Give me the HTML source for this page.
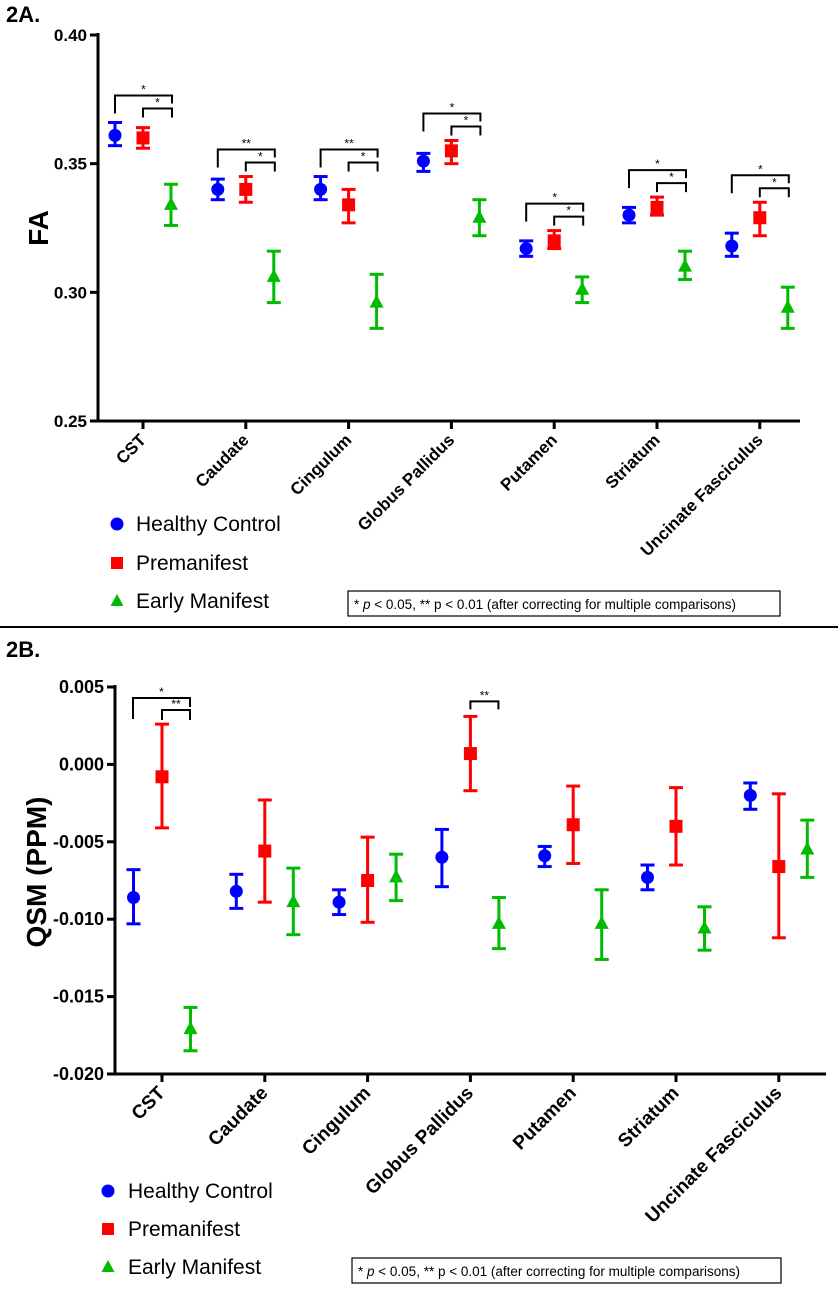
<!DOCTYPE html>
<html><head><meta charset="utf-8"><style>
body{margin:0;background:#fff;}
svg text{font-family:"Liberation Sans",Arial,sans-serif;}
</style></head><body>
<svg id="chart" width="838" height="1296" xmlns="http://www.w3.org/2000/svg"></svg>
<script>
const categories=["CST","Caudate","Cingulum","Globus Pallidus","Putamen","Striatum","Uncinate Fasciculus"];
const faHC=[[0.361,0.357,0.366],[0.340,0.336,0.344],[0.340,0.336,0.345],[0.351,0.347,0.354],[0.317,0.314,0.320],[0.330,0.327,0.333],[0.318,0.314,0.323]];
const faPM=[[0.360,0.356,0.364],[0.340,0.335,0.345],[0.334,0.327,0.340],[0.355,0.350,0.359],[0.320,0.317,0.324],[0.333,0.330,0.337],[0.329,0.322,0.335]];
const faEM=[[0.334,0.326,0.342],[0.306,0.296,0.316],[0.296,0.286,0.307],[0.329,0.322,0.336],[0.301,0.296,0.306],[0.310,0.305,0.316],[0.294,0.286,0.302]];
const faSig=[["*","*"],["**","*"],["**","*"],["*","*"],["*","*"],["*","*"],["*","*"]];
const faTicks=[0.25,0.30,0.35,0.40];
const qHC=[[-0.0086,-0.0103,-0.0068],[-0.0082,-0.0093,-0.0071],[-0.0089,-0.0097,-0.0081],[-0.0060,-0.0079,-0.0042],[-0.0059,-0.0066,-0.0053],[-0.0073,-0.0081,-0.0065],[-0.0020,-0.0029,-0.0012]];
const qPM=[[-0.0008,-0.0041,0.0026],[-0.0056,-0.0089,-0.0023],[-0.0075,-0.0102,-0.0047],[0.0007,-0.0017,0.0031],[-0.0039,-0.0064,-0.0014],[-0.0040,-0.0065,-0.0015],[-0.0066,-0.0112,-0.0019]];
const qEM=[[-0.0171,-0.0185,-0.0157],[-0.0089,-0.0110,-0.0067],[-0.0073,-0.0088,-0.0058],[-0.0103,-0.0119,-0.0086],[-0.0103,-0.0126,-0.0081],[-0.0106,-0.0120,-0.0092],[-0.0055,-0.0073,-0.0036]];
const qTicks=[0.005,0.000,-0.005,-0.010,-0.015,-0.020];
const qTickLabels=["0.005","0.000","-0.005","-0.010","-0.015","-0.020"];

const svg=document.getElementById('chart');
const NS="http://www.w3.org/2000/svg";
function mk(tag,attrs,name,parent){const e=document.createElementNS(NS,tag);for(const k in attrs)e.setAttribute(k,attrs[k]);


(parent||svg).appendChild(e);return e;}
function txt(x,y,s,attrs,name){const t=mk('text',Object.assign({x:x,y:y},attrs),name);t.textContent=s;return t;}

function panel(o){
  const g=mk('g',{},o.name);
  const y=v=>o.y0+(v-o.vmin)/(o.vmax-o.vmin)*(o.y1-o.y0);
  const x=i=>o.cx0+i*o.step;
  mk('line',{x1:o.ax,y1:o.y1-2,x2:o.ax,y2:o.y0+1.5,stroke:'#000','stroke-width':3},'y-axis',g);
  mk('line',{x1:o.ax-1.5,y1:o.y0,x2:o.xend,y2:o.y0,stroke:'#000','stroke-width':3},'x-axis',g);
  o.ticks.forEach((t,i)=>{mk('line',{x1:o.ax-8,y1:y(t),x2:o.ax,y2:y(t),stroke:'#000','stroke-width':3},'y-tick',g);
    txt(o.ax-11,y(t)+6,o.tickLabels[i],{'text-anchor':'end','font-size':o.tfs,'font-weight':'bold'},'y-tick-label');});
  categories.forEach((c,i)=>{mk('line',{x1:x(i),y1:o.y0,x2:x(i),y2:o.y0+8,stroke:'#000','stroke-width':3},'x-tick',g);
    txt(x(i)+4,o.y0+20,c,{'text-anchor':'end','font-size':o.lfs,'font-weight':'bold',transform:`rotate(-45 ${x(i)+4} ${o.y0+20})`},'x-tick-label');});
  const series=[[o.hc,'#0000ff','circle',-o.off],[o.pm,'#ff0000','square',0],[o.em,'#00bb00','triangle',o.off]];
  series.forEach(([d,col,shape,dx])=>{d.forEach((v,i)=>{const cx=x(i)+dx;
    mk('line',{x1:cx,y1:y(v[1]),x2:cx,y2:y(v[2]),stroke:col,'stroke-width':3},'error-bar',g);
    mk('line',{x1:cx-7,y1:y(v[1]),x2:cx+7,y2:y(v[1]),stroke:col,'stroke-width':3},'error-cap',g);
    mk('line',{x1:cx-7,y1:y(v[2]),x2:cx+7,y2:y(v[2]),stroke:col,'stroke-width':3},'error-cap',g);
    const cy=y(v[0]);
    if(shape==='circle')mk('circle',{cx:cx,cy:cy,r:6.5,fill:col},'point-healthy-control',g);
    else if(shape==='square')mk('rect',{x:cx-6.5,y:cy-6.5,width:13,height:13,fill:col},'point-premanifest',g);
    else mk('polygon',{points:`${cx},${cy-8} ${cx+7},${cy+5} ${cx-7},${cy+5}`,fill:col},'point-early-manifest',g);
  });});
  return {x,y,g};
}

// Panel A
const A=panel({name:'panel-2a',ax:98,xend:800,y0:421,y1:35,vmin:0.25,vmax:0.40,cx0:143,step:102.8,off:28,tfs:17,lfs:17,ticks:faTicks,tickLabels:faTicks.map(t=>t.toFixed(2)),hc:faHC,pm:faPM,em:faEM});
categories.forEach((c,i)=>{
  const top=A.y(Math.max(faHC[i][2],faPM[i][2]));
  const yo=top-27, yi=top-14;
  const xh=A.x(i)-28,xp=A.x(i),xe=A.x(i)+29;
  mk('path',{d:`M${xh},${yo+18}V${yo}H${xe}V${yo+8}`,fill:'none',stroke:'#000','stroke-width':2},'significance-bracket',A.g);
  mk('path',{d:`M${xp},${yi+9}V${yi}H${xe}V${yi+9}`,fill:'none',stroke:'#000','stroke-width':2},'significance-bracket',A.g);
  txt((xh+xe)/2,yo-2,faSig[i][0],{'text-anchor':'middle','font-size':12},'significance-star');
  txt((xp+xe)/2,yi-2,faSig[i][1],{'text-anchor':'middle','font-size':12},'significance-star');
});
txt(6,22,'2A.',{'font-size':22,'font-weight':'bold'},'panel-label-2a');
txt(48,228,'FA',{'font-size':28,'font-weight':'bold','text-anchor':'middle',transform:'rotate(-90 48 228)'},'y-axis-title-fa');

// Panel B
const B=panel({name:'panel-2b',ax:115,xend:826,y0:1074,y1:687,vmin:-0.020,vmax:0.005,cx0:162,step:102.8,off:28.5,tfs:18,lfs:19,ticks:qTicks,tickLabels:qTickLabels,hc:qHC,pm:qPM,em:qEM});
(function(){
  const xh=B.x(0)-29,xp=B.x(0),xe=B.x(0)+28;
  mk('path',{d:`M${xh},719V698H${xe}V707`,fill:'none',stroke:'#000','stroke-width':2},'significance-bracket',B.g);
  mk('path',{d:`M${xp},720V710H${xe}V720`,fill:'none',stroke:'#000','stroke-width':2},'significance-bracket',B.g);
  txt((xh+xe)/2,696,'*',{'text-anchor':'middle','font-size':12},'significance-star');
  txt((xp+xe)/2,708,'**',{'text-anchor':'middle','font-size':12},'significance-star');
  const top=B.y(qPM[3][2]);
  const gp=B.x(3),ge=B.x(3)+28;
  mk('path',{d:`M${gp},${top-7}V${top-15}H${ge}V${top-7}`,fill:'none',stroke:'#000','stroke-width':2},'significance-bracket',B.g);
  txt((gp+ge)/2,top-17,'**',{'text-anchor':'middle','font-size':12},'significance-star');
})();
txt(6,657,'2B.',{'font-size':22,'font-weight':'bold'},'panel-label-2b');
txt(46,872,'QSM (PPM)',{'font-size':28,'font-weight':'bold','text-anchor':'middle',transform:'rotate(-90 46 872)'},'y-axis-title-qsm');

mk('line',{x1:0,y1:627,x2:838,y2:627,stroke:'#000','stroke-width':2},'panel-divider');

function legend(mx,tx,ys,name){
  const g=mk('g',{},name);
  mk('circle',{cx:mx,cy:ys[0],r:6.5,fill:'#0000ff'},'legend-marker-healthy-control',g);
  txt(tx,ys[0]+7,'Healthy Control',{'font-size':21},'legend-entry-healthy-control');
  mk('rect',{x:mx-6,y:ys[1]-6,width:12,height:12,fill:'#ff0000'},'legend-marker-premanifest',g);
  txt(tx,ys[1]+7,'Premanifest',{'font-size':21},'legend-entry-premanifest');
  mk('polygon',{points:`${mx},${ys[2]-7} ${mx+6.5},${ys[2]+5} ${mx-6.5},${ys[2]+5}`,fill:'#00bb00'},'legend-marker-early-manifest',g);
  txt(tx,ys[2]+7,'Early Manifest',{'font-size':21},'legend-entry-early-manifest');
}
legend(117,136,[524,563,601],'legend-2a');
legend(108,128,[1191,1229,1267],'legend-2b');

function note(x,y,w,name){
  mk('rect',{x:x,y:y,width:w,height:25,fill:'#fff',stroke:'#000','stroke-width':1.2},name+'-box');
  const t=mk('text',{x:x+6,y:y+18,'font-size':13.5},name);
  t.innerHTML='* <tspan font-style="italic">p</tspan> &lt; 0.05, ** p &lt; 0.01 (after correcting for multiple comparisons)';
}
note(348,591,432,'significance-note-2a');
note(352,1258,429,'significance-note-2b');
</script>
</body></html>
